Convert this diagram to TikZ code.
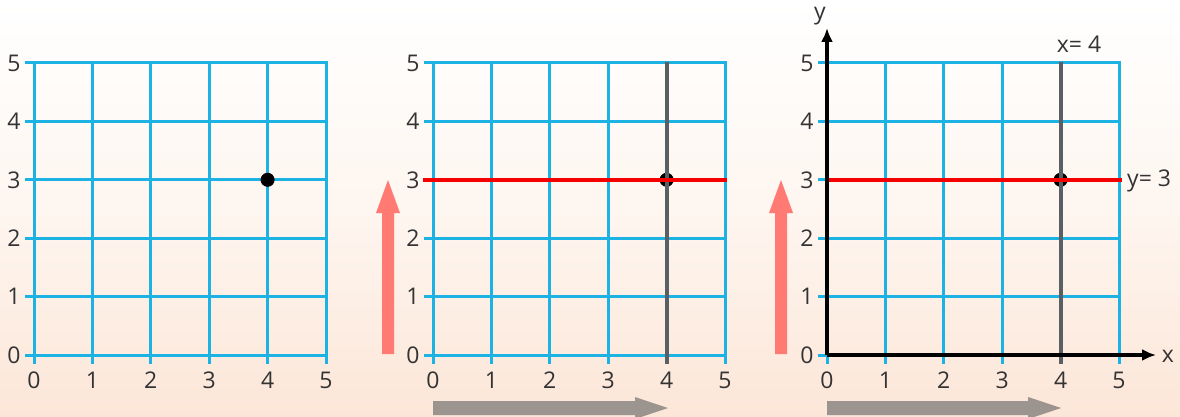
\documentclass[tikz,border=0pt]{standalone}
\usepackage{fontspec}
\setmainfont{Open Sans}
\definecolor{gridblue}{RGB}{28,178,228}
\definecolor{redline}{RGB}{245,0,0}
\definecolor{grayline}{RGB}{90,95,100}
\definecolor{salmon}{RGB}{255,122,114}
\definecolor{grayarrow}{RGB}{156,148,142}
\definecolor{peach}{RGB}{252,230,216}
\tikzset{
  gridline/.style={draw=gridblue, line width=3pt},
  redl/.style={draw=redline, line width=3.5pt},
  grayl/.style={draw=grayline, line width=4pt},
  axis/.style={draw=black, line width=3.5pt, -{Latex[length=14pt,width=12pt]}},
  lbl/.style={font=\fontsize{23}{24}\selectfont, text=black!80, inner sep=0pt},
  dot/.style={fill=black},
}
\usetikzlibrary{arrows.meta}
\newcommand{\drawgrid}[2]{%
  % #1 = origin x pixel, #2 = name prefix
  \foreach \j in {0,...,5}{
    \draw[gridline] (#1-9, 355-58.4*\j) -- (#1+294, 355-58.4*\j);
    \node[lbl] (#2y\j) at (#1-20, 355-58.4*\j) {\j};
  }
  \foreach \i in {0,...,5}{
    \draw[gridline] (#1+58.4*\i, 62) -- (#1+58.4*\i, 364);
    \node[lbl] (#2x\i) at (#1+58.4*\i, 380) {\i};
  }
}
\newcommand{\uparrowshape}[1]{%
  \fill[salmon] (#1-6, 354) -- (#1-6, 213) -- (#1-12, 213) -- (#1, 180) -- (#1+12, 213) -- (#1+6, 213) -- (#1+6, 354) -- cycle;
}
\newcommand{\rightarrowshape}[2]{%
  \fill[grayarrow] (#1, 401) -- (#2-33, 401) -- (#2-33, 397) -- (#2, 408) -- (#2-33, 419) -- (#2-33, 415) -- (#1, 415) -- cycle;
}
\begin{document}
\begin{tikzpicture}[x=1pt, y=-1pt]
\useasboundingbox (0,0) rectangle (1180,417);
\shade[top color=white, bottom color=peach, middle color={rgb,255:red,254;green,246;blue,240}] (0,0) rectangle (1180,417);
% grid 1
\drawgrid{34}{a}
\fill[dot] (267.6,179.8) circle (7);
% grid 2
\drawgrid{433}{b}
\fill[dot] (666.6,179.8) circle (7);
\draw[grayl] (666.6,62) -- (666.6,364);
\draw[redl] (423,179.8) -- (727,179.8);
\uparrowshape{388}
\rightarrowshape{433}{668}
% grid 3
\drawgrid{827}{c}
\fill[dot] (1060.6,179.8) circle (7);
\draw[grayl] (1060.6,62) -- (1060.6,364);
\draw[redl] (827,179.8) -- (1122,179.8);
\coordinate (o) at (827,355);
\coordinate (yend) at (827,28);
\coordinate (xend) at (1156,355);
\draw[axis] (o) -- (yend);
\draw[axis] (o) -- (xend);
\node[lbl] (ylab) at (820,16) {y};
\node[lbl] (xlab) at (1168,356) {x};
\node[lbl] (xeq) at (1079,44) {x= 4};
\node[lbl, anchor=west] (yeq) at (1127,181) {y= 3};
\uparrowshape{781}
\rightarrowshape{827}{1061}
\end{tikzpicture}
\end{document}
